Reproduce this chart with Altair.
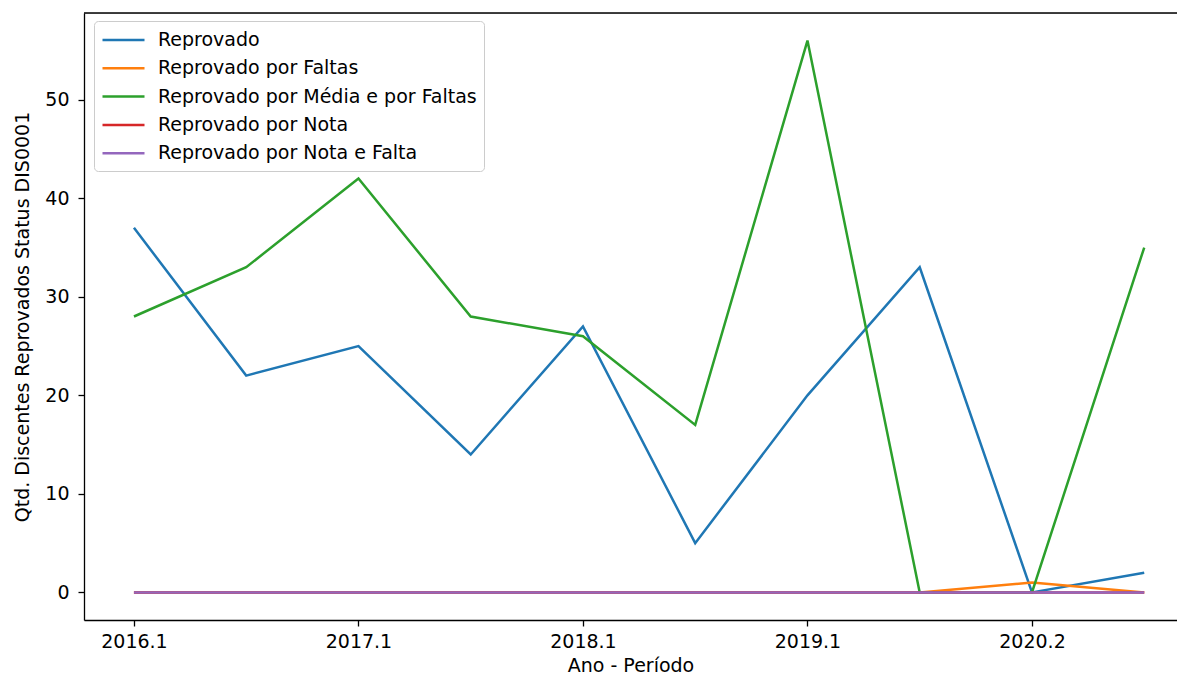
import json
import altair as alt
import pandas as pd

# ---- data ----
periodos = ["2016.1", "2016.2", "2017.1", "2017.2", "2018.1",
            "2018.2", "2019.1", "2019.2", "2020.2", "2021.1"]
series_nomes = ["Reprovado", "Reprovado por Faltas",
                "Reprovado por Média e por Faltas",
                "Reprovado por Nota", "Reprovado por Nota e Falta"]
reprovado = [37, 22, 25, 14, 27, 5, 20, 33, 0, 2]
rep_faltas = [0, 0, 0, 0, 0, 0, 0, 0, 1, 0]
rep_media_faltas = [28, 33, 42, 28, 26, 17, 56, 0, 0, 35]
rep_nota = [0, 0, 0, 0, 0, 0, 0, 0, 0, 0]
rep_nota_falta = [0, 0, 0, 0, 0, 0, 0, 0, 0, 0]
cores = ["#1f77b4", "#ff7f0e", "#2ca02c", "#d62728", "#9467bd"]
marcas_x = [0, 2, 4, 6, 8]
marcas_y = [0, 10, 20, 30, 40, 50]

valores = [reprovado, rep_faltas, rep_media_faltas, rep_nota, rep_nota_falta]
rows = []
for nome, vals in zip(series_nomes, valores):
    for i, (p, v) in enumerate(zip(periodos, vals)):
        rows.append({"periodo": p, "idx": i, "serie": nome, "valor": v})
df = pd.DataFrame(rows)

W, H = 1093, 607
FS = 19
label_expr = json.dumps(periodos) + "[round(datum.value)]"

x_enc = alt.X(
    "idx:Q",
    scale=alt.Scale(domain=[-0.445, 9.292], nice=False, zero=False),
    axis=alt.Axis(values=marcas_x, labelExpr=label_expr, title="Ano - Período",
                  grid=False, tickSize=6, labelPadding=6, titlePadding=5),
)
y_enc = alt.Y(
    "valor:Q",
    scale=alt.Scale(domain=[-2.8, 58.8], nice=False, zero=False),
    axis=alt.Axis(values=marcas_y, title="Qtd. Discentes Reprovados Status DIS0001",
                  grid=False, tickSize=6, labelPadding=9, titlePadding=12),
)
c_enc = alt.Color(
    "serie:N",
    scale=alt.Scale(domain=series_nomes, range=cores),
    legend=alt.Legend(
        title=None, orient="none", legendX=10, legendY=8,
        symbolType="M-1,0L3,0", symbolSize=441, symbolStrokeWidth=2.5,
        labelFontSize=FS, labelOffset=33, rowPadding=6.3,
        strokeColor="#cccccc", fillColor="rgba(255,255,255,0.8)",
        cornerRadius=4, padding=7, labelLimit=500,
    ),
)

layers = []
for nome in series_nomes:
    layers.append(
        alt.Chart(df)
        .transform_filter(alt.datum.serie == nome)
        .mark_line(strokeWidth=2.5)
        .encode(x=x_enc, y=y_enc, color=c_enc)
    )

topo = alt.Chart(pd.DataFrame({"a": [0]})).mark_rule(color="black", strokeWidth=1.3).encode(
    x=alt.value(0), x2=alt.value(W), y=alt.value(0)
)

chart = (
    alt.layer(*layers, topo)
    .properties(width=W, height=H,
                padding={"left": 76, "top": 5, "right": 0, "bottom": 55},
                autosize=alt.AutoSizeParams(type="none"))
    .configure_view(stroke=None)
    .configure(font="DejaVu Sans")
    .configure_axis(labelFontSize=FS, titleFontSize=FS, titleFontWeight="normal",
                    labelColor="black", titleColor="black", domainColor="black",
                    tickColor="black", domainWidth=1.3, tickWidth=1.3)
    .configure_legend(labelColor="black")
)

chart.save("out.html", embed_options={"renderer": "svg", "actions": False})
